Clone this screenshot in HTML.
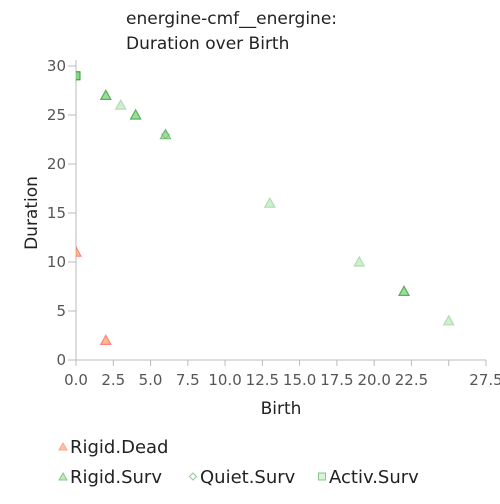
<!DOCTYPE html>
<html><head><meta charset="utf-8"><style>
body{margin:0;background:#fff;font-family:"DejaVu Sans","Liberation Sans",sans-serif}
svg text{font-family:"DejaVu Sans","Liberation Sans",sans-serif}
</style></head><body>
<svg id="c" width="500" height="500"></svg>
<script>
const deadX=[0,2], deadY=[11,2];
const rsX=[2,2,2,4,4,4,22,22,22,3,13,19,25,6,6], rsY=[27,27,27,25,25,25,7,7,7,26,16,10,4,23,23];
const qsX=[6], qsY=[23];
const asX=[0,0,0], asY=[29,29,29];
const xTicks=["0.0","2.5","5.0","7.5","10.0","12.5","15.0","17.5","20.0","22.5","","27.5"];
const yTicks=[0,5,10,15,20,25,30];
const NS="http://www.w3.org/2000/svg", svg=document.getElementById('c');
const X0=76,X1=486,Y0=360,Y1=66;
const sx=v=>X0+(X1-X0)*v/27.5, sy=v=>Y0-(Y0-Y1)*v/30;
function el(t,a,p){const e=document.createElementNS(NS,t);for(const k in a)e.setAttribute(k,a[k]);(p||svg).appendChild(e);return e;}
const defs=el('defs',{});const cp=el('clipPath',{id:'cp'},defs);el('rect',{x:X0,y:40,width:420,height:330},cp);
let t=el('text',{x:126,y:24,'font-size':17,fill:'#222'});t.textContent='energine-cmf__energine:';

t=el('text',{x:126,y:49,'font-size':17,fill:'#222'});t.textContent='Duration over Birth';

const ax=el('g',{stroke:'#bbb','stroke-width':1});

el('line',{x1:X0,y1:Y1-6,x2:X0,y2:Y0},ax);el('line',{x1:X0,y1:Y0,x2:X1,y2:Y0},ax);
xTicks.forEach((l,i)=>{const x=sx(i*2.5);el('line',{x1:x,y1:Y0,x2:x,y2:Y0+6},ax);
 const tt=el('text',{x:x,y:Y0+25,'font-size':15,fill:'#555','text-anchor':'middle'});tt.textContent=l;
 });
yTicks.forEach(v=>{const y=sy(v);el('line',{x1:X0-8,y1:y,x2:X0,y2:y},ax);
 const tt=el('text',{x:X0-10,y:y+5,'font-size':15,fill:'#555','text-anchor':'end'});tt.textContent=v;
 });
t=el('text',{x:281,y:414,'font-size':17,fill:'#222','text-anchor':'middle'});t.textContent='Birth';

t=el('text',{x:37,y:213,'font-size':17,fill:'#222','text-anchor':'middle',transform:'rotate(-90 37 213)'});t.textContent='Duration';

const g=el('g',{'clip-path':'url(#cp)'});
function tri(x,y,f,s,p,o){return el('path',{d:`M${x},${y-5}L${x+5},${y+4}L${x-5},${y+4}Z`,fill:f,stroke:s,'stroke-width':1.2,opacity:o},p);}
deadX.forEach((v,i)=>{const m=tri(sx(v),sy(deadY[i]),'#ff9030','#ff3030',g,0.6);});
rsX.forEach((v,i)=>{const m=tri(sx(v),sy(rsY[i]),'#70d070','#109010',g,0.32);});
qsX.forEach((v,i)=>{const x=sx(v),y=sy(qsY[i]);const m=el('path',{d:`M${x},${y-4}L${x+4},${y}L${x},${y+4}L${x-4},${y}Z`,fill:'#80d080',stroke:'#40a040',opacity:0.4},g);});
asX.forEach((v,i)=>{const x=sx(v),y=sy(asY[i]);const m=el('rect',{x:x-4,y:y-4,width:8,height:8,fill:'#60d060',stroke:'#008000',opacity:0.4},g);});
function leg(x,y,kind,label,f,s){const gg=el('g',{});
 if(kind=='t')el('path',{d:`M${x},${y-5}L${x+4},${y+2}L${x-4},${y+2}Z`,fill:f,stroke:s,opacity:0.6},gg);
 else if(kind=='d')el('path',{d:`M${x},${y-5}L${x+3.5},${y-1.5}L${x},${y+2}L${x-3.5},${y-1.5}Z`,fill:'#fff',stroke:s,opacity:0.7},gg);
 else el('rect',{x:x-3.5,y:y-5,width:7,height:7,fill:f,stroke:s,opacity:0.6},gg);
 const tt=el('text',{x:x+7,y:y+5,'font-size':18,fill:'#222'},gg);tt.textContent=label;}
leg(63,448,'t','Rigid.Dead','#ffa040','#ff6060');
leg(63,478,'t','Rigid.Surv','#90e090','#40a040');
leg(193,478,'d','Quiet.Surv','#fff','#60b060');
leg(322,478,'s','Activ.Surv','#c0f0c0','#40a040');
</script></body></html>
